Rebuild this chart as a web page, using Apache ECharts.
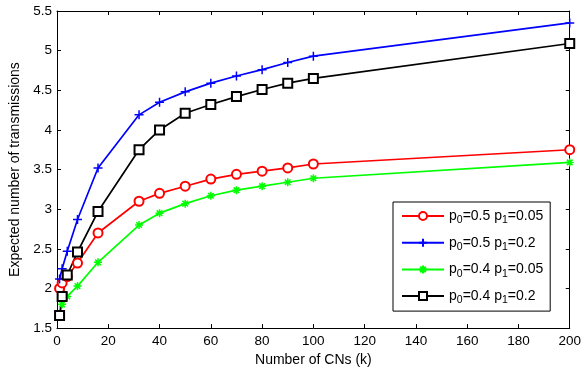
<!DOCTYPE html>
<html>
<head>
<meta charset="utf-8">
<script src="https://cdn.jsdelivr.net/npm/echarts@6/dist/echarts.min.js"></script>
<style>html,body{margin:0;padding:0;background:#fff}#c{width:584px;height:372px}</style>
</head>
<body>
<div id="c"></div>
<script>
var xValues = [1, 2, 4, 8, 16, 32, 40, 50, 60, 70, 80, 90, 100, 200];
var redValues = [2.00, 2.07, 2.15, 2.32, 2.70, 3.10, 3.20, 3.29, 3.38, 3.44, 3.48, 3.52, 3.57, 3.75];
var blueValues = [2.12, 2.25, 2.47, 2.87, 3.52, 4.19, 4.35, 4.48, 4.59, 4.68, 4.76, 4.85, 4.93, 5.35];
var greenValues = [1.66, 1.80, 1.90, 2.03, 2.33, 2.80, 2.95, 3.07, 3.17, 3.24, 3.29, 3.34, 3.39, 3.59];
var blackValues = [1.66, 1.90, 2.17, 2.46, 2.97, 3.75, 4.00, 4.21, 4.32, 4.42, 4.51, 4.59, 4.65, 5.09];
var seriesNames = ['p0=0.5 p1=0.05', 'p0=0.5 p1=0.2', 'p0=0.4 p1=0.05', 'p0=0.4 p1=0.2'];
var xTitle = 'Number of CNs (k)';
var yTitle = 'Expected number of transmissions';

function pairs(ys) { return xValues.map(function (x, i) { return [x, ys[i]]; }); }

var FONT = 'Liberation Sans, Arial, sans-serif';
var plus = 'path://M0,-1L0,1M-1,0L1,0';
var star = 'path://M0,-1L0,1M-1,0L1,0M-0.7,-0.7L0.7,0.7M-0.7,0.7L0.7,-0.7';

function mk(name, data, color, symbol, size, bw) {
  return {
    name: name, type: 'line', data: pairs(data), xAxisIndex: 0, yAxisIndex: 0,
    symbol: symbol, symbolSize: size, showAllSymbol: true,
    lineStyle: { color: color, width: 1.7 },
    itemStyle: { color: color, borderColor: color, borderWidth: bw },
    emphasis: { disabled: true }, animation: false
  };
}

var axisCommon = {
  min: 0, max: 200, interval: 20,
  axisLine: { show: true, onZero: false, lineStyle: { color: '#000', width: 1 } },
  axisTick: { show: true, inside: true, length: 4, lineStyle: { color: '#000' } },
  splitLine: { show: false }
};

var chart = echarts.init(document.getElementById('c'), null, { renderer: 'canvas' });
chart.setOption({
  backgroundColor: '#fff',
  animation: false,
  textStyle: { fontFamily: FONT },
  grid: { left: 57, right: 10, top: 11, bottom: 39, containLabel: false },
  xAxis: [
    Object.assign({}, axisCommon, {
      type: 'value', position: 'bottom',
      name: xTitle, nameLocation: 'middle', nameGap: 19,
      nameTextStyle: { color: '#000', fontSize: 14, fontFamily: FONT },
      axisLabel: { color: '#000', fontSize: 13.5, fontFamily: FONT, margin: 6 }
    }),
    Object.assign({}, axisCommon, {
      type: 'value', position: 'top', axisLabel: { show: false }
    })
  ],
  yAxis: [
    {
      type: 'value', min: 1.5, max: 5.5, interval: 0.5, position: 'left',
      name: yTitle, nameLocation: 'middle', nameGap: 33, nameRotate: 90,
      nameTextStyle: { color: '#000', fontSize: 14, fontFamily: FONT },
      axisLine: { show: true, onZero: false, lineStyle: { color: '#000', width: 1 } },
      axisTick: { show: true, inside: true, length: 4, lineStyle: { color: '#000' } },
      axisLabel: { color: '#000', fontSize: 13.5, fontFamily: FONT, margin: 5 },
      splitLine: { show: false }
    },
    {
      type: 'value', min: 1.5, max: 5.5, interval: 0.5, position: 'right',
      axisLine: { show: true, onZero: false, lineStyle: { color: '#000', width: 1 } },
      axisTick: { show: true, inside: true, length: 4, lineStyle: { color: '#000' } },
      axisLabel: { show: false },
      splitLine: { show: false }
    }
  ],
  legend: {
    left: 393, top: 202, orient: 'vertical',
    backgroundColor: '#fff', borderColor: '#000', borderWidth: 1, borderRadius: 0,
    padding: [4, 7, 5, 8],
    itemWidth: 42, itemHeight: 10, itemGap: 6.7,
    selectedMode: false,
    formatter: function (n) {
      var m = n.match(/p0=([\d.]+) p1=([\d.]+)/);
      return '{a|p}{s|0}{a|=' + m[1] + ' p}{s|1}{a|=' + m[2] + '}';
    },
    textStyle: {
      color: '#000', fontFamily: FONT, fontSize: 14, padding: [0, 0, 0, 0],
      rich: {
        a: { fontSize: 14, fontFamily: FONT, color: '#000', lineHeight: 20, verticalAlign: 'middle' },
        s: { fontSize: 10.5, fontFamily: FONT, color: '#000', lineHeight: 11, verticalAlign: 'top', padding: [9, 0, 0, 0] }
      }
    },
    data: seriesNames
  },
  series: [
    mk(seriesNames[0], redValues, '#ff0000', 'emptyCircle', 9, 1.5),
    mk(seriesNames[1], blueValues, '#0000ff', plus, 9, 1.5),
    mk(seriesNames[2], greenValues, '#00ff00', star, 8, 1.5),
    mk(seriesNames[3], blackValues, '#000000', 'emptyRect', 9, 1.8)
  ]
});
</script>
</body>
</html>
